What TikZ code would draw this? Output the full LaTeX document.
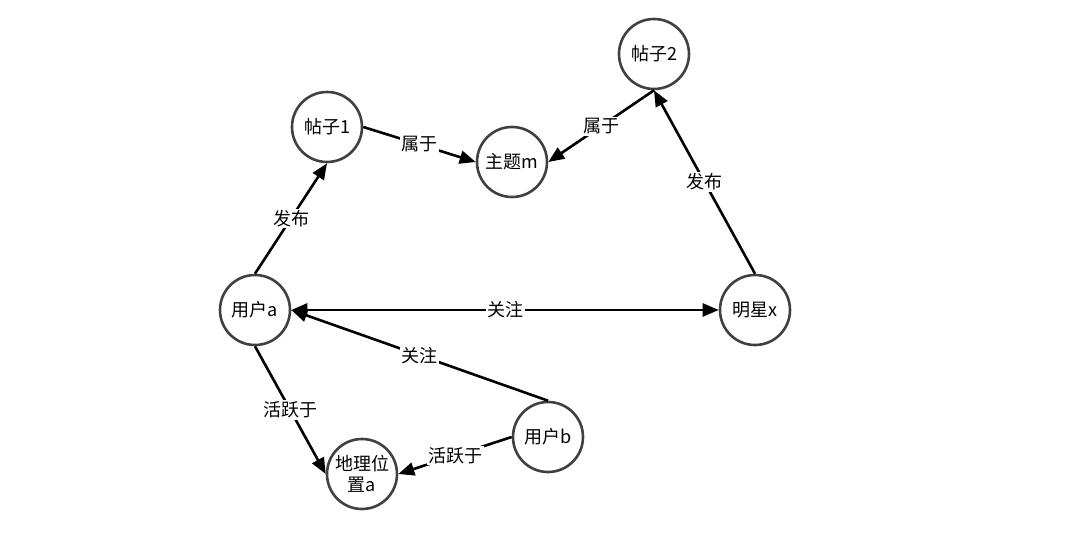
\documentclass[tikz,border=0pt]{standalone}
\usepackage{fontspec}
\setmainfont{Noto Sans CJK SC}
\usetikzlibrary{arrows.meta}
\begin{document}
\begin{tikzpicture}[x=1pt,y=-1pt,
  vnode/.style={circle,draw=black!75,line width=2.6pt,fill=white,minimum size=70pt,inner sep=0pt,font=\fontsize{18}{22}\selectfont,align=center},
  edge/.style={line width=2.6pt,-{Triangle[length=16pt,width=13pt]}},
  biedge/.style={line width=2.6pt,{Triangle[length=16pt,width=13pt]}-{Triangle[length=16pt,width=13pt]}},
  elabel/.style={fill=white,inner sep=1.5pt,font=\fontsize{18}{22}\selectfont}]
\useasboundingbox (0,0) rectangle (1080,545);
\node[vnode] (p1) at (327,127) {帖子1};
\node[vnode] (topic) at (512,162) {主题m};
\node[vnode] (p2) at (654,54) {帖子2};
\node[vnode] (ua) at (255,310) {用户a};
\node[vnode] (star) at (755,310) {明星x};
\node[vnode] (ub) at (548,437) {用户b};
\node[vnode] (geo) at (362,474) {地理位\\[-1pt]置a};

\draw[edge] (p1.east) -- node[elabel]{属于} (topic.west);
\draw[edge] (p2.south) -- node[elabel]{属于} (topic.east);
\draw[edge] (ua.north) -- node[elabel]{发布} (p1.south);
\draw[edge] (star.north) -- node[elabel]{发布} (p2.south);
\draw[biedge] (ua.east) -- node[elabel]{关注} (star.west);
\draw[edge] (ub.north) -- node[elabel]{关注} (ua.east);
\draw[edge] (ua.south) -- node[elabel]{活跃于} (geo.west);
\draw[edge] (ub.west) -- node[elabel]{活跃于} (geo.east);
\end{tikzpicture}
\end{document}
